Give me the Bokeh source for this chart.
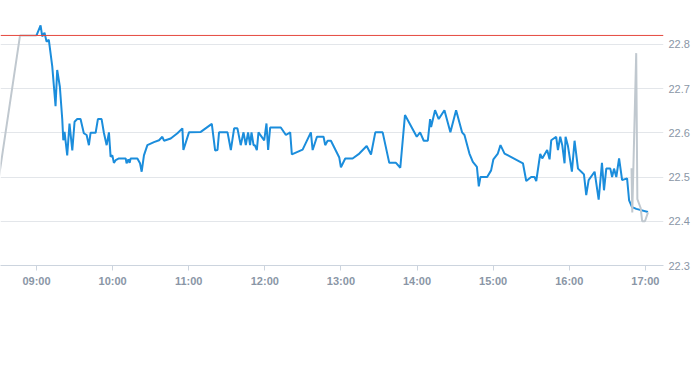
import pandas as pd
from bokeh.plotting import figure
from bokeh.models import FixedTicker, DatetimeTickFormatter, Span, ColumnDataSource
from bokeh.embed import file_html
from bokeh.resources import INLINE

DAY = "2024-01-02 "

price_times = [
    "09:00:00", "09:03:12", "09:04:30", "09:06:18", "09:07:54", "09:09:42", "09:12:24", "09:15:00",
    "09:16:18", "09:18:24", "09:20:18", "09:21:06", "09:22:06", "09:24:12", "09:26:00", "09:28:12",
    "09:30:00", "09:32:06", "09:34:42", "09:37:18", "09:39:30", "09:41:18", "09:42:36", "09:46:36",
    "09:48:24", "09:51:18", "09:53:06", "09:55:18", "09:57:06", "09:58:24", "09:59:48", "10:01:00",
    "10:02:24", "10:05:00", "10:10:18", "10:11:00", "10:12:24", "10:13:24", "10:14:12", "10:19:30",
    "10:21:36", "10:22:54", "10:24:42", "10:27:24", "10:32:36", "10:36:36", "10:39:12", "10:40:30",
    "10:45:48", "10:51:06", "10:55:00", "10:55:48", "11:00:12", "11:09:30", "11:18:12", "11:20:48",
    "11:22:42", "11:23:54", "11:30:36", "11:33:12", "11:35:48", "11:38:24", "11:41:00", "11:43:12",
    "11:45:00", "11:46:48", "11:48:24", "11:49:30", "11:51:06", "11:52:06", "11:53:42", "11:55:00",
    "11:59:30", "12:01:18", "12:02:36", "12:04:12", "12:12:36", "12:16:36", "12:20:00", "12:21:18",
    "12:29:48", "12:36:18", "12:37:42", "12:41:06", "12:46:18", "12:47:36", "12:49:30", "12:52:06",
    "12:58:42", "13:00:00", "13:03:24", "13:09:12", "13:14:30", "13:20:18", "13:23:42", "13:27:06",
    "13:32:54", "13:38:06", "13:43:24", "13:46:48", "13:50:30", "13:59:48", "14:02:24", "14:05:18",
    "14:08:30", "14:10:18", "14:11:06", "14:14:12", "14:17:06", "14:21:36", "14:26:18", "14:30:48",
    "14:35:30", "14:37:24", "14:41:18", "14:44:00", "14:47:12", "14:48:42", "14:50:00", "14:55:18",
    "14:58:24", "15:00:12", "15:03:42", "15:05:48", "15:09:00", "15:23:30", "15:26:06", "15:30:00",
    "15:32:36", "15:34:00", "15:37:06", "15:38:42", "15:42:36", "15:44:30", "15:45:48", "15:49:42",
    "15:51:06", "15:52:54", "15:54:30", "15:56:18", "15:57:06", "15:59:00", "16:02:06", "16:04:12",
    "16:06:54", "16:09:30", "16:11:36", "16:13:24", "16:15:18", "16:20:00", "16:23:12", "16:25:48",
    "16:27:24", "16:29:12", "16:32:24", "16:33:48", "16:35:18", "16:37:06", "16:39:18", "16:41:42",
    "16:45:36", "16:47:12", "16:49:30", "16:52:54", "17:02:06",
]
price_values = [
    22.82, 22.843, 22.818, 22.826, 22.806, 22.81, 22.75, 22.66,
    22.742, 22.704, 22.63, 22.583, 22.602, 22.549, 22.621, 22.56,
    22.625, 22.631, 22.631, 22.599, 22.595, 22.572, 22.60, 22.60,
    22.631, 22.631, 22.60, 22.572, 22.601, 22.546, 22.549, 22.532,
    22.538, 22.542, 22.542, 22.531, 22.54, 22.532, 22.542, 22.542,
    22.531, 22.512, 22.549, 22.572, 22.579, 22.583, 22.591, 22.582,
    22.587, 22.599, 22.61, 22.561, 22.601, 22.602, 22.62, 22.56,
    22.561, 22.601, 22.601, 22.561, 22.61, 22.61, 22.572, 22.601,
    22.572, 22.601, 22.572, 22.601, 22.572, 22.572, 22.561, 22.601,
    22.583, 22.621, 22.561, 22.612, 22.612, 22.595, 22.601, 22.551,
    22.562, 22.601, 22.561, 22.591, 22.591, 22.572, 22.582, 22.582,
    22.544, 22.522, 22.542, 22.542, 22.553, 22.57, 22.551, 22.601,
    22.601, 22.532, 22.532, 22.521, 22.64, 22.591, 22.601, 22.582,
    22.582, 22.631, 22.613, 22.651, 22.631, 22.651, 22.601, 22.651,
    22.601, 22.595, 22.553, 22.534, 22.523, 22.479, 22.50, 22.50,
    22.515, 22.54, 22.553, 22.572, 22.553, 22.531, 22.491, 22.50,
    22.50, 22.491, 22.552, 22.542, 22.561, 22.54, 22.583, 22.591,
    22.561, 22.591, 22.572, 22.531, 22.591, 22.57, 22.512, 22.582,
    22.519, 22.512, 22.506, 22.459, 22.493, 22.512, 22.449, 22.532,
    22.47, 22.519, 22.519, 22.50, 22.519, 22.50, 22.542, 22.493,
    22.497, 22.447, 22.432, 22.428, 22.421,
]

pre_times = ["08:20:00", "08:47:00", "09:00:00"]
pre_values = [22.30, 22.82, 22.82]

post_times = ["16:49:06", "16:49:42", "16:52:48", "16:53:42", "16:56:18", "16:57:30", "16:59:42", "17:02:06"]
post_values = [22.52, 22.42, 22.78, 22.45, 22.43, 22.40, 22.40, 22.42]

prev_close = 22.82

y_ticks = [22.3, 22.4, 22.5, 22.6, 22.7, 22.8]
x_tick_labels = ["09:00", "10:00", "11:00", "12:00", "13:00", "14:00", "15:00", "16:00", "17:00"]


def to_dt(ts):
    return pd.to_datetime([DAY + t for t in ts])


price_src = ColumnDataSource(dict(t=to_dt(price_times), v=price_values))
pre_src = ColumnDataSource(dict(t=to_dt(pre_times), v=pre_values))
post_src = ColumnDataSource(dict(t=to_dt(post_times), v=post_values))

x_start = pd.Timestamp(DAY + "08:31:36")
x_end = pd.Timestamp(DAY + "17:14:19")

p = figure(
    width=693, height=365,
    x_axis_type="datetime",
    x_range=(x_start, x_end),
    y_range=(22.3, 22.899),
    y_axis_location="right",
    output_backend="svg",
    toolbar_location=None,
    min_border_left=0, min_border_top=0, min_border_right=30, min_border_bottom=100,
)
p.outline_line_color = None
p.background_fill_color = "white"
p.border_fill_color = "white"

grid_color = "#e3e6ea"
axis_color = "#ccd4de"
label_color = "#8a96a6"

# x axis
xt = [pd.Timestamp(DAY + s).value // 10**6 for s in x_tick_labels]
p.xaxis.ticker = FixedTicker(ticks=xt)
p.xaxis.formatter = DatetimeTickFormatter(
    hours="%H:%M", minutes="%H:%M", hourmin="%H:%M", minsec="%H:%M", days="%H:%M")
p.xaxis.axis_line_color = axis_color
p.xaxis.major_tick_line_color = axis_color
p.xaxis.major_tick_in = 0
p.xaxis.major_tick_out = 5
p.xaxis.minor_tick_line_color = None
p.xaxis.major_label_standoff = 4
p.xaxis.major_label_text_color = label_color
p.xaxis.major_label_text_font = "Liberation Sans"
p.xaxis.major_label_text_font_size = "11px"
p.xaxis.major_label_text_font_style = "bold"

# y axis
p.yaxis.ticker = FixedTicker(ticks=y_ticks)
p.yaxis.axis_line_color = None
p.yaxis.major_tick_line_color = None
p.yaxis.minor_tick_line_color = None
p.yaxis.major_tick_in = 0
p.yaxis.major_tick_out = 0
p.yaxis.minor_tick_in = 0
p.yaxis.minor_tick_out = 0
p.yaxis.major_label_standoff = 5
p.yaxis.major_label_text_color = label_color
p.yaxis.major_label_text_font = "Liberation Sans"
p.yaxis.major_label_text_font_size = "11px"

p.xgrid.grid_line_color = None
p.ygrid.ticker = FixedTicker(ticks=y_ticks[1:])
p.ygrid.grid_line_color = grid_color
p.ygrid.grid_line_width = 1

p.add_layout(Span(location=prev_close, dimension="width", line_color="#e5483e", line_width=1))

p.line("t", "v", source=pre_src, line_color="#c0c8cf", line_width=2)
p.line("t", "v", source=price_src, line_color="#1b8ddc", line_width=2)
p.line("t", "v", source=post_src, line_color="#c0c8cf", line_width=2)

open("out.html", "w").write(file_html(p, INLINE))
